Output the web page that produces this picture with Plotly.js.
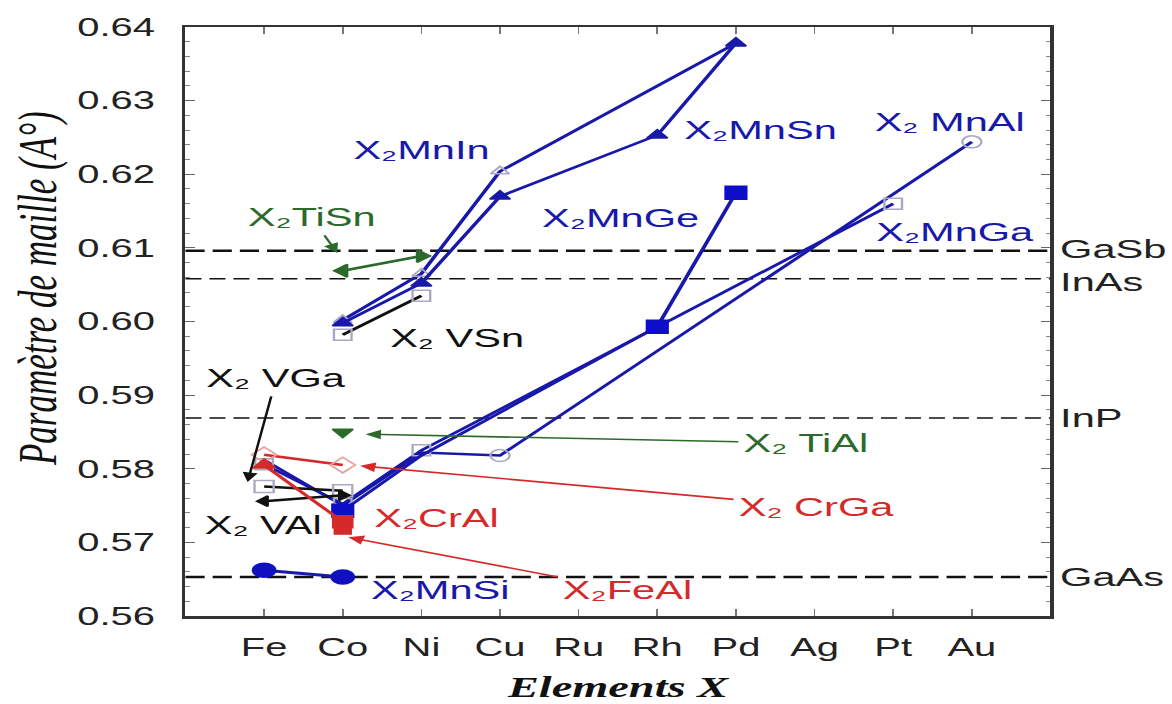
<!DOCTYPE html>
<html>
<head>
<meta charset="utf-8">
<script src="https://cdn.plot.ly/plotly-3.0.1.min.js"></script>
<style>
html,body{margin:0;padding:0;background:#fff;overflow:hidden;}
#chart{width:733px;height:704px;transform:scaleX(1.59891);transform-origin:0 0;}
</style>
</head>
<body>
<div id="chart"></div>
<script>
// ---------- data ----------
const elements = ['Fe','Co','Ni','Cu','Ru','Rh','Pd','Ag','Pt','Au'];

const mnInX = ['Co','Ni','Cu','Pd'];
const mnInY = [0.6002, 0.6065, 0.6204, 0.6378];
const mnSnX = ['Co','Ni','Cu','Rh','Pd'];
const mnSnY = [0.5998, 0.6052, 0.6170, 0.6253, 0.6378];
const mnGeX = ['Co','Ni','Rh','Pd'];
const mnGeY = [0.5743, 0.5818, 0.5993, 0.6175];
const mnGaX = ['Fe','Co','Ni','Pt'];
const mnGaY = [0.5806, 0.5752, 0.5825, 0.6160];
const mnAlX = ['Fe','Co','Ni','Cu','Au'];
const mnAlY = [0.5812, 0.5750, 0.5822, 0.5818, 0.6244];
const mnSiX = ['Fe','Co'];
const mnSiY = [0.5662, 0.5653];
const tiSnX = ['Co','Ni'];
const tiSnY = [0.6069, 0.6089];
const tiAlX = ['Co'];
const tiAlY = [0.5850];
const vSnX = ['Co','Ni'];
const vSnY = [0.5982, 0.6035];
const vGaX = ['Fe','Co'];
const vGaY = [0.5776, 0.5770];
const vAlX = ['Fe','Co'];
const vAlY = [0.5756, 0.5764];
const crGaX = ['Fe','Co'];
const crGaY = [0.5819, 0.5805];
const crAlX = ['Fe','Co'];
const crAlY = [0.5805, 0.5728];
const feAlX = ['Co'];
const feAlY = [0.5718];

const semiNames = ['GaSb','InAs','InP','GaAs'];
const semiValues = [0.6096, 0.6058, 0.5869, 0.5653];

// ---------- styles ----------
const BLUE = '#1818aa', GREEN = '#2c6a2c', RED = '#d42a2a', BLACK = '#111111', LIGHT = '#a9a9c4';
const FONT = 'Liberation Sans, Arial, sans-serif';
const SERIF = 'Liberation Serif, Times New Roman, serif';

function tr(x, y, color, symbol, size, mcolor, lw) {
  return {
    type: 'scatter', mode: 'lines+markers', x: x, y: y,
    line: {color: color, width: lw || 2.5},
    marker: {symbol: symbol, size: size, opacity: 1, color: mcolor || color, line: {width: 1.5, color: mcolor || color}},
    opacity: 1, hoverinfo: 'skip', showlegend: false, cliponaxis: false
  };
}

const traces = [
  tr(mnAlX, mnAlY, BLUE, 'circle-open', [0,0,0,12,12], LIGHT),
  tr(mnGaX, mnGaY, BLUE, 'square-open', 11, LIGHT),
  tr(mnGeX, mnGeY, BLUE, 'square', [13,0,13,13], '#0e0ec8'),
  tr(mnInX, mnInY, BLUE, 'triangle-up-open', 10, LIGHT),
  tr(mnSnX, mnSnY, BLUE, 'triangle-up', 11),
  tr(vSnX, vSnY, BLACK, 'square-open', 11, LIGHT),
  tr(tiSnX, tiSnY, GREEN, ['triangle-left','triangle-right'], 11),
  tr(tiAlX, tiAlY, GREEN, 'triangle-down', 11),
  tr(vGaX, vGaY, BLACK, 'square-open', 12, LIGHT),
  tr(vAlX, vAlY, BLACK, ['triangle-left','triangle-right'], 9),
  tr(crGaX, crGaY, RED, 'diamond-open', 12, '#e8a0a0'),
  tr(crAlX, crAlY, RED, ['triangle-up','square'], 12),
  tr(feAlX, feAlY, RED, 'square', 10),
  tr(mnSiX, mnSiY, BLUE, 'circle', 14, '#1010c0', 3)
];

// ---------- reference lines ----------
const shapes = semiNames.map((n, i) => ({
  type: 'line', xref: 'paper', yref: 'y', x0: 0, x1: 1, y0: semiValues[i], y1: semiValues[i],
  layer: 'below',
  line: {color: '#111', width: (n === 'GaSb' || n === 'GaAs') ? 2.6 : 1.5,
         dash: (n === 'GaSb' || n === 'GaAs') ? '12px,5px' : '10px,5px'}
}));

// ---------- labels ----------
function lab(text, x, y, color) {
  return {text: text, x: x, y: y, xref: 'x', yref: 'y', showarrow: false,
          font: {family: FONT, size: 26, color: color}, xanchor: 'center', yanchor: 'middle'};
}
// label with an arrow: (x, y) is the arrow head, (ax, ay) the offset of the label
function lar(text, x, y, ax, ay, color) {
  return {text: text, x: x, y: y, xref: 'x', yref: 'y', ax: ax, ay: ay, showarrow: true,
          arrowhead: 2, arrowsize: 1.2, arrowwidth: 1.6, arrowcolor: color, standoff: 0, startstandoff: 2,
          font: {family: FONT, size: 26, color: color}};
}

const annotations = [
  lab('X\u2082MnIn', 1.99, 0.6233, BLUE),
  lab('X\u2082MnSn', 6.30, 0.6260, BLUE),
  lar('X\u2082TiSn', 0.93, 0.6093, -16.3, -36, GREEN),
  lab('X\u2082MnGe', 4.54, 0.6141, BLUE),
  lab('X\u2082 MnAl', 8.72, 0.6271, BLUE),
  lab('X\u2082MnGa', 8.80, 0.6122, BLUE),
  lab('X\u2082 VSn', 2.46, 0.5978, BLACK),
  lar('X\u2082 VGa', -0.21, 0.5782, 18, -104, BLACK),
  lab('X\u2082 VAl', -0.02, 0.5724, BLACK),
  lab('X\u2082CrAl', 2.20, 0.5733, RED),
  lar('X\u2082 TiAl', 1.29, 0.5847, 275.6, 9, GREEN),
  lar('X\u2082 CrGa', 1.22, 0.5804, 285.6, 41, RED),
  lab('X\u2082MnSi', 2.25, 0.5635, BLUE),
  lar('X\u2082FeAl', 1.07, 0.5707, 175, 53, RED),
  {text: '<i>Paramètre de maille (A°)</i>', xref: 'paper', yref: 'paper', x: -0.1719, y: 0.555,
   xanchor: 'center', yanchor: 'middle', textangle: -90, showarrow: false, borderpad: 0,
   font: {family: SERIF, size: 35, color: '#111'}}
].concat(semiNames.map((n, i) => ({
  text: n, xref: 'paper', yref: 'y', x: 1.008, y: semiValues[i] + (n === 'GaSb' ? 0.0002 : (n === 'InAs' ? -0.0004 : 0)),
  xanchor: 'left', yanchor: 'middle', showarrow: false,
  font: {family: FONT, size: 26, color: '#222'}
})));

const layout = {
  width: 733, height: 704,
  margin: {l: 116, r: 76, t: 27, b: 88},
  paper_bgcolor: '#fff', plot_bgcolor: '#fff',
  showlegend: false,
  font: {family: FONT, color: '#222'},
  xaxis: {
    type: 'category', categoryorder: 'array', categoryarray: elements,
    range: [-1, 10], showgrid: false, zeroline: false,
    showline: true, linecolor: '#333', linewidth: 2.5, mirror: 'allticks',
    ticks: 'inside', ticklen: 7, tickwidth: 1, tickcolor: '#777',
    tickfont: {family: FONT, size: 25, color: '#222'},
    ticklabelstandoff: 8,
    title: {text: '<b><i>Elements X</i></b>', font: {family: SERIF, size: 29, color: '#111'}, standoff: 16}
  },
  yaxis: {
    range: [0.56, 0.64], dtick: 0.01, tickformat: '.2f',
    showgrid: false, zeroline: false,
    showline: true, linecolor: '#333', linewidth: 2, mirror: 'allticks',
    ticks: 'inside', ticklen: 6, tickwidth: 1, tickcolor: '#666',
    minor: {ticks: 'inside', ticklen: 3, dtick: 0.002, tickcolor: '#888'},
    tickfont: {family: FONT, size: 25, color: '#222'},
    ticklabelstandoff: 12
  },
  shapes: shapes,
  annotations: annotations
};

Plotly.newPlot('chart', traces, layout, {displayModeBar: false, staticPlot: true});
</script>
</body>
</html>
